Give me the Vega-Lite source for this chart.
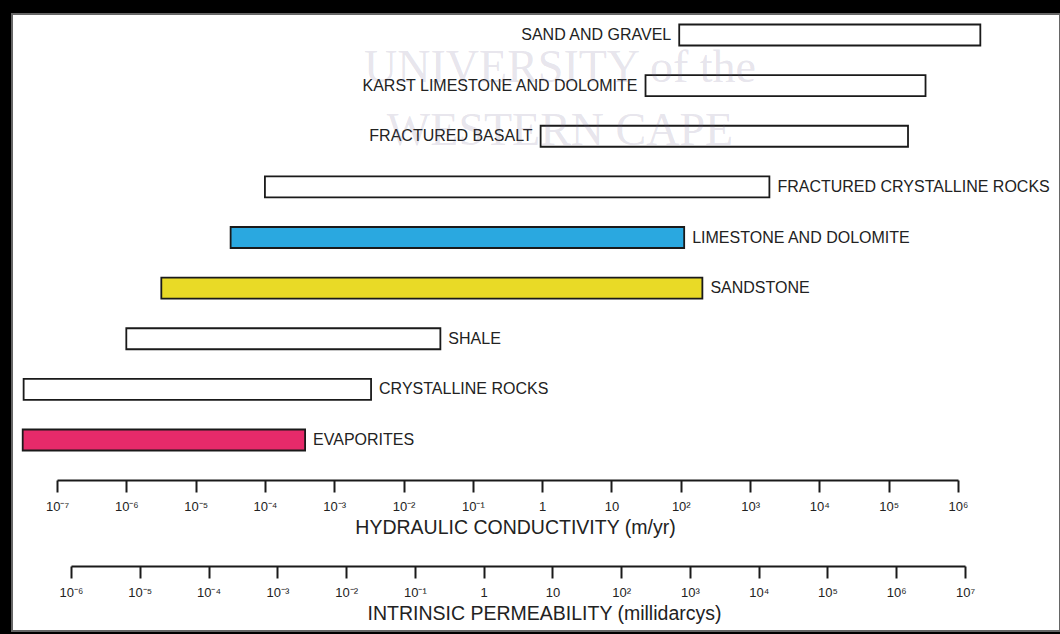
{
  "$schema": "https://vega.github.io/schema/vega-lite/v6.json",
  "width": 1048,
  "height": 617,
  "autosize": {"type": "none"},
  "padding": {"left": 12, "top": 14, "right": 0, "bottom": 3},
  "background": "#000000",
  "config": {
    "view": {"fill": "#ffffff", "stroke": "#666666", "strokeWidth": 2},
    "font": "Liberation Sans",
    "axis": {
      "grid": false,
      "domainColor": "#1a1a1a",
      "domainWidth": 2,
      "tickColor": "#1a1a1a",
      "tickWidth": 2,
      "tickSize": 12,
      "labelFont": "Liberation Sans",
      "labelFontSize": 13,
      "labelColor": "#222222",
      "labelPadding": 8,
      "labelFlush": false,
      "labelOverlap": false,
      "titleFont": "Liberation Sans",
      "titleFontSize": 19.5,
      "titleFontWeight": "normal",
      "titleColor": "#222222",
      "titlePadding": 5
    }
  },
  "title": {
    "text": ["UNIVERSITY of the", "WESTERN CAPE"],
    "orient": "top",
    "anchor": "middle",
    "frame": "group",
    "offset": -141,
    "dx": 24,
    "font": "Liberation Serif",
    "fontSize": 46,
    "fontWeight": "normal",
    "lineHeight": 63,
    "color": "rgba(110,100,140,0.18)"
  },
  "datasets": {
    "rocks": [
      {"rock": "SAND AND GRAVEL", "lo": 95, "hi": 2100000},
      {"rock": "KARST LIMESTONE AND DOLOMITE", "lo": 31, "hi": 340000},
      {"rock": "FRACTURED BASALT", "lo": 0.95, "hi": 190000},
      {"rock": "FRACTURED CRYSTALLINE ROCKS", "lo": 0.0001, "hi": 1900},
      {"rock": "LIMESTONE AND DOLOMITE", "lo": 0.000032, "hi": 112},
      {"rock": "SANDSTONE", "lo": 0.0000032, "hi": 205},
      {"rock": "SHALE", "lo": 0.000001, "hi": 0.034},
      {"rock": "CRYSTALLINE ROCKS", "lo": 0.000000033, "hi": 0.0034},
      {"rock": "EVAPORITES", "lo": 0.000000032, "hi": 0.00038}
    ],
    "perm": [{"k": 0.000001}, {"k": 10000000}]
  },
  "layer": [
    {
      "data": {"name": "rocks"},
      "mark": {"type": "bar", "stroke": "#1a1a1a", "strokeWidth": 1.8},
      "encoding": {
        "y": {
          "field": "rock", "type": "nominal", "sort": null, "axis": null,
          "scale": {
            "domain": ["SAND AND GRAVEL", "KARST LIMESTONE AND DOLOMITE", "FRACTURED BASALT", "FRACTURED CRYSTALLINE ROCKS", "LIMESTONE AND DOLOMITE", "SANDSTONE", "SHALE", "CRYSTALLINE ROCKS", "EVAPORITES"],
            "range": [0, 447], "paddingInner": 0.585, "paddingOuter": 0.2075
          }
        },
        "x": {
          "field": "lo", "type": "quantitative",
          "scale": {"type": "log", "domain": [0.0000001, 1000000], "range": [45, 946], "nice": false},
          "axis": {
            "orient": "bottom",
            "offset": -151,
            "values": [0.0000001, 0.000001, 0.00001, 0.0001, 0.001, 0.01, 0.1, 1, 10, 100, 1000, 10000, 100000, 1000000],
            "labelExpr": "['10⁻⁷','10⁻⁶','10⁻⁵','10⁻⁴','10⁻³','10⁻²','10⁻¹','1','10','10²','10³','10⁴','10⁵','10⁶'][round(log(datum.value)/LN10)+7]",
            "title": "HYDRAULIC CONDUCTIVITY (m/yr)",
            "titleX": 503
          }
        },
        "x2": {"field": "hi"},
        "color": {
          "field": "rock", "type": "nominal", "legend": null,
          "scale": {
            "domain": ["SAND AND GRAVEL", "KARST LIMESTONE AND DOLOMITE", "FRACTURED BASALT", "FRACTURED CRYSTALLINE ROCKS", "LIMESTONE AND DOLOMITE", "SANDSTONE", "SHALE", "CRYSTALLINE ROCKS", "EVAPORITES"],
            "range": ["#ffffff", "#ffffff", "#ffffff", "#ffffff", "#2aa8e0", "#e9da26", "#ffffff", "#ffffff", "#e62a6a"]
          }
        }
      }
    },
    {
      "data": {"name": "rocks"},
      "transform": [{"filter": {"not": {"field": "rock", "oneOf": ["SAND AND GRAVEL", "KARST LIMESTONE AND DOLOMITE", "FRACTURED BASALT"]}}}],
      "mark": {"type": "text", "align": "left", "baseline": "middle", "dx": 8, "font": "Liberation Sans", "fontSize": 16, "color": "#222222"},
      "encoding": {
        "y": {
          "field": "rock", "type": "nominal", "sort": null, "axis": null,
          "scale": {
            "domain": ["SAND AND GRAVEL", "KARST LIMESTONE AND DOLOMITE", "FRACTURED BASALT", "FRACTURED CRYSTALLINE ROCKS", "LIMESTONE AND DOLOMITE", "SANDSTONE", "SHALE", "CRYSTALLINE ROCKS", "EVAPORITES"],
            "range": [0, 447], "paddingInner": 0.585, "paddingOuter": 0.2075
          }
        },
        "x": {
          "field": "hi", "type": "quantitative", "axis": null,
          "scale": {"type": "log", "domain": [0.0000001, 1000000], "range": [45, 946], "nice": false}
        },
        "text": {"field": "rock"}
      }
    },
    {
      "data": {"name": "rocks"},
      "transform": [{"filter": {"field": "rock", "oneOf": ["SAND AND GRAVEL", "KARST LIMESTONE AND DOLOMITE", "FRACTURED BASALT"]}}],
      "mark": {"type": "text", "align": "right", "baseline": "middle", "dx": -8, "font": "Liberation Sans", "fontSize": 16, "color": "#222222"},
      "encoding": {
        "y": {
          "field": "rock", "type": "nominal", "sort": null, "axis": null,
          "scale": {
            "domain": ["SAND AND GRAVEL", "KARST LIMESTONE AND DOLOMITE", "FRACTURED BASALT", "FRACTURED CRYSTALLINE ROCKS", "LIMESTONE AND DOLOMITE", "SANDSTONE", "SHALE", "CRYSTALLINE ROCKS", "EVAPORITES"],
            "range": [0, 447], "paddingInner": 0.585, "paddingOuter": 0.2075
          }
        },
        "x": {
          "field": "lo", "type": "quantitative", "axis": null,
          "scale": {"type": "log", "domain": [0.0000001, 1000000], "range": [45, 946], "nice": false}
        },
        "text": {"field": "rock"}
      }
    },
    {
      "data": {"name": "perm"},
      "mark": {"type": "point", "opacity": 0},
      "encoding": {
        "x": {
          "field": "k", "type": "quantitative",
          "scale": {"type": "log", "domain": [0.000001, 10000000], "range": [59, 953], "nice": false},
          "axis": {
            "orient": "bottom",
            "offset": -65,
            "values": [0.000001, 0.00001, 0.0001, 0.001, 0.01, 0.1, 1, 10, 100, 1000, 10000, 100000, 1000000, 10000000],
            "labelExpr": "['10⁻⁶','10⁻⁵','10⁻⁴','10⁻³','10⁻²','10⁻¹','1','10','10²','10³','10⁴','10⁵','10⁶','10⁷'][round(log(datum.value)/LN10)+6]",
            "title": "INTRINSIC PERMEABILITY (millidarcys)",
            "titleX": 532
          }
        }
      }
    }
  ],
  "resolve": {"scale": {"x": "independent", "y": "shared"}, "axis": {"x": "independent"}}
}
